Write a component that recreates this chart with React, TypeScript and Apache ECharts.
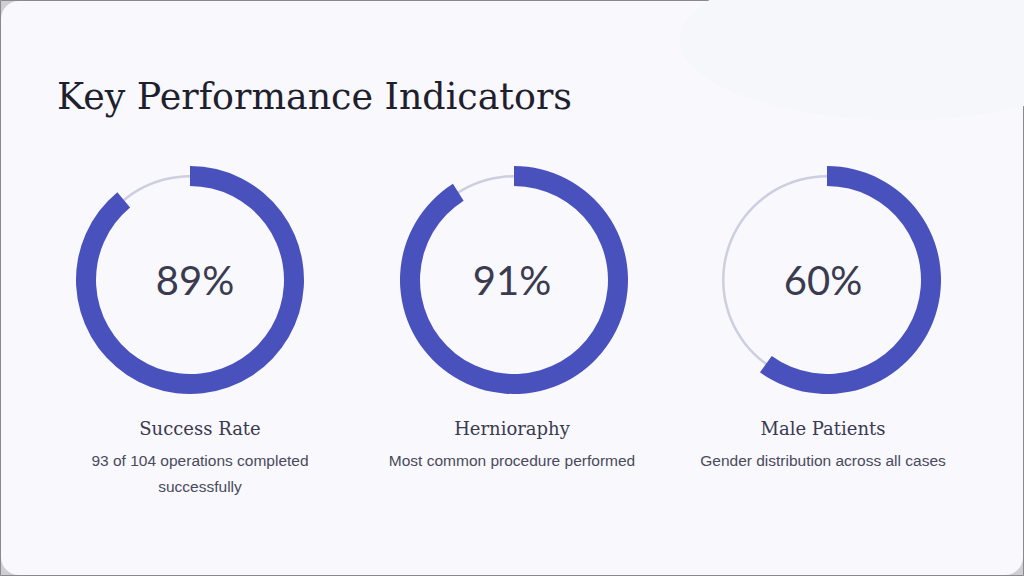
import React, { useEffect, useRef } from "react";
import * as echarts from "echarts";

const titleText = "Key Performance Indicators";
const kpiLabels = ["Success Rate", "Herniorаphy".replace("а", "a"), "Male Patients"];
const kpiValues = [89, 91, 60];
const kpiDescriptions = [
  ["93 of 104 operations completed", "successfully"],
  ["Most common procedure performed"],
  ["Gender distribution across all cases"],
];

const ringCenters = [190, 514, 827];
const textCenters = [200, 512, 823];
const pctCenters = [195, 512, 823];
const CY = 280;
const ARC = "#4951BC";
const TRACK = "#cdcee0";

export default function App() {
  const ref = useRef<HTMLDivElement>(null);
  useEffect(() => {
    if (!ref.current) return;
    const chart = echarts.init(ref.current, null, { renderer: "svg" });
    const series: any[] = [];
    kpiValues.forEach((v, i) => {
      series.push({
        type: "pie",
        silent: true,
        center: [ringCenters[i], CY],
        radius: [102.5, 105],
        startAngle: 90,
        label: { show: false },
        labelLine: { show: false },
        itemStyle: { color: TRACK, borderWidth: 0 },
        data: [{ value: 100, name: "track" + i }],
        z: 1,
      });
      series.push({
        type: "pie",
        silent: true,
        center: [ringCenters[i], CY],
        radius: [94, 114],
        startAngle: 90,
        clockwise: true,
        label: { show: false },
        labelLine: { show: false },
        itemStyle: { borderWidth: 0 },
        data: [
          { value: v, name: kpiLabels[i], itemStyle: { color: ARC } },
          { value: 100 - v, name: "rest" + i, itemStyle: { color: "rgba(0,0,0,0)" } },
        ],
        z: 2,
      });
    });

    const texts: any[] = [];
    kpiValues.forEach((v, i) => {
      texts.push({
        type: "text",
        x: pctCenters[i],
        y: CY,
        z: 10,
        style: {
          text: v + "%",
          fill: "#3b3b4f",
          font: '400 40px Lato',
          align: "center",
          verticalAlign: "middle",
        },
      });
      texts.push({
        type: "text",
        x: textCenters[i],
        y: 428,
        z: 10,
        style: {
          text: kpiLabels[i],
          fill: "#3a3a50",
          font: '18px "DejaVu Serif"',
          align: "center",
          verticalAlign: "middle",
        },
      });
      kpiDescriptions[i].forEach((line, j) => {
        texts.push({
          type: "text",
          x: textCenters[i],
          y: 460 + j * 26,
          z: 10,
          style: {
            text: line,
            fill: "#4a4a5c",
            font: '15.5px "Liberation Sans"',
            align: "center",
            verticalAlign: "middle",
          },
        });
      });
    });

    chart.setOption({
      animation: false,
      backgroundColor: "#cfcfd2",
      graphic: [
        {
          type: "rect",
          z: -10,
          shape: { x: 0.5, y: 0.5, width: 1023, height: 575, r: 0 },
          style: { fill: "#cfcfd2", stroke: "#8a8a8e", lineWidth: 1 },
        },
        {
          type: "rect",
          z: -9,
          shape: { x: 1, y: 1, width: 1022, height: 574, r: 18 },
          style: { fill: "#f8f8fd" },
        },
        {
          type: "ellipse",
          z: -8,
          shape: { cx: 900, cy: 40, rx: 220, ry: 80 },
          style: { fill: "#f6f7fb" },
        },
        {
          type: "text",
          x: 57,
          y: 96,
          z: 10,
          style: {
            text: titleText,
            fill: "#1f1f2e",
            font: '36.4px "DejaVu Serif"',
            align: "left",
            verticalAlign: "middle",
          },
        },
        ...texts,
      ],
      series,
    });
    return () => chart.dispose();
  }, []);
  return (
    <div
      ref={ref}
      style={{ position: "fixed", left: 0, top: 0, width: 1024, height: 576 }}
    />
  );
}
